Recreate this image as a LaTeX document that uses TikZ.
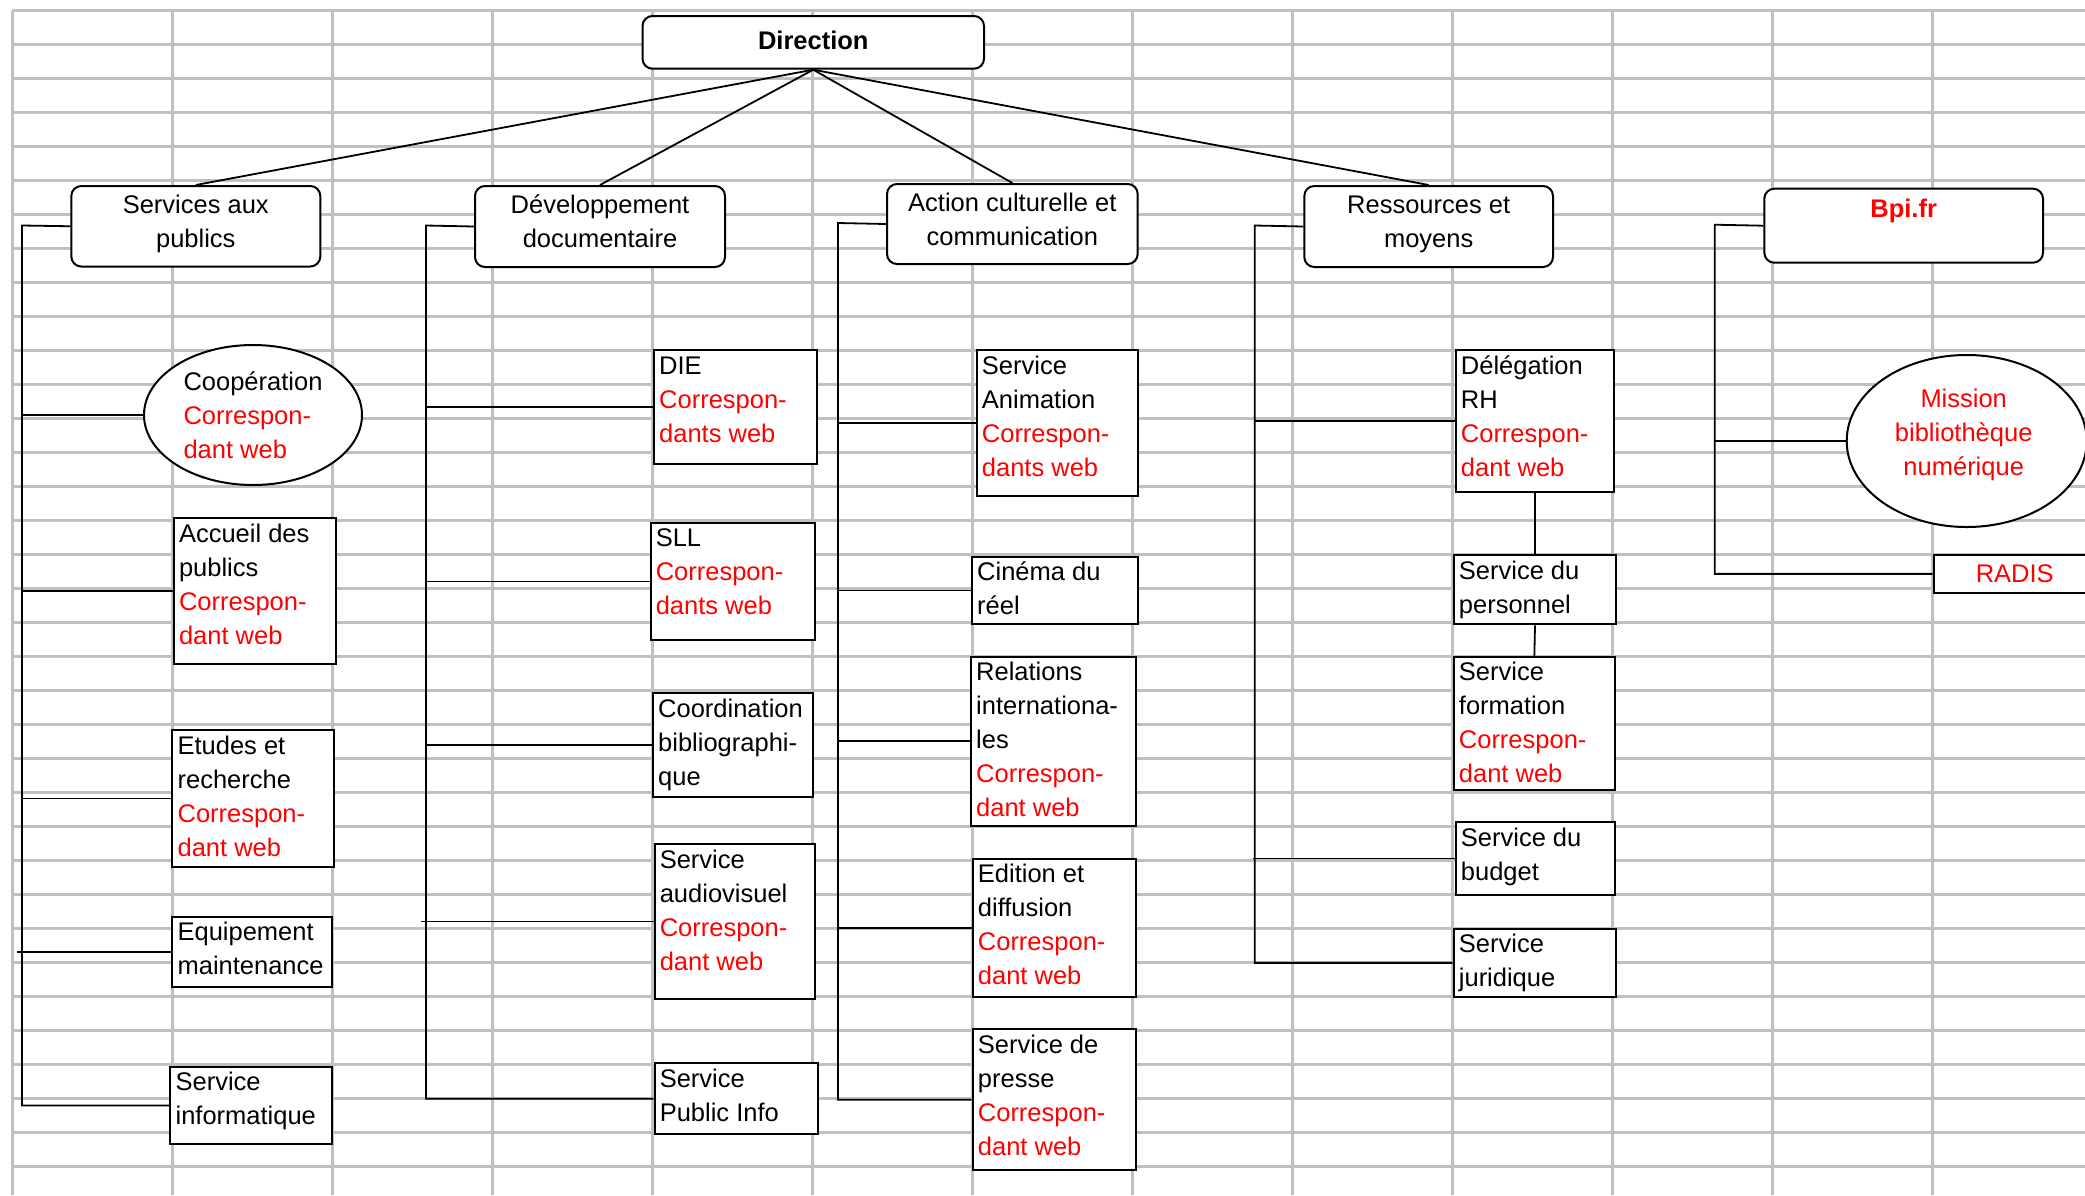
\documentclass[tikz,border=0pt]{standalone}
\usepackage{fontspec}
\setmainfont{Liberation Sans}
\usetikzlibrary{shapes.geometric}
\usetikzlibrary{calc}

\definecolor{gridgray}{RGB}{192,192,192}

% red web correspondent lines
\newcommand{\webc}{\textcolor{red}{Correspon-}\\\textcolor{red}{dant web}}
\newcommand{\webcs}{\textcolor{red}{Correspon-}\\\textcolor{red}{dants web}}

% name, x, y (top left), width, height, text
\newcommand{\unitbox}[6]{%
  \node[unit, minimum width=#4pt, minimum height=#5pt] (#1) at (#2,#3) {};
  \node[unittext] (#1-t) at (#1.north west) {\strut #6};
}

\begin{document}
\begin{tikzpicture}[x=1pt, y=-1pt,
  every node/.style={font=\fontsize{25.5}{34}\selectfont},
  gridline/.style={draw=gridgray, line width=3pt},
  link/.style={line width=1.8pt},
  overshoot/.style={shorten <=-5pt},
  unit/.style={draw, fill=white, line width=2pt, anchor=north west, inner sep=0pt},
  unittext/.style={anchor=north west, align=left, inner xsep=6pt, inner ysep=1pt},
  topbox/.style={draw, fill=white, line width=2pt, rounded corners=10pt, anchor=north west, align=center, inner sep=0pt,
    execute at begin node=\strut, execute at end node=\strut},
  oval/.style={draw, ellipse, fill=white, line width=2pt, inner sep=0pt}]
 \useasboundingbox (0,0) rectangle (2085,1195);
 \clip (0,0) rectangle (2085,1195);

    % Grid
    \foreach \i in {0,...,12}
      \draw[gridline] ({12+160.06*\i},10.7) -- ({12+160.06*\i},1195);
    \foreach \j in {0,...,34}
      \draw[gridline] (12,{10.7+34*\j}) -- (2085,{10.7+34*\j});

    % Direction and departments
    \node[topbox, minimum width=341.5pt, minimum height=52.7pt, font=\fontsize{25.5}{34}\selectfont\bfseries] (dir) at (641.5,15) {Direction};
    \node[topbox, minimum width=249pt, minimum height=80.5pt] (sap) at (70.3,185) {Services aux\\publics};
    \node[topbox, minimum width=250pt, minimum height=81pt] (dev) at (474,185) {Développement\\documentaire};
    \node[topbox, minimum width=250.7pt, minimum height=80pt] (acc) at (886,183) {Action culturelle et\\communication};
    \node[topbox, minimum width=248.7pt, minimum height=81pt] (rm) at (1303.3,185) {Ressources et\\moyens};
    \node[topbox, minimum width=278.7pt, minimum height=74pt] (bpi) at (1763.3,187.7) {};
    \node[font=\fontsize{25.5}{34}\selectfont\bfseries, text=red] (bpi-t) at ($(bpi.north)+(0,23)$) {Bpi.fr};

    % Services aux publics
    \node[oval, minimum width=218pt, minimum height=140pt] (coop) at (253,415) {};
    \node[align=left] (coop-t) at (coop) {Coopération\\\webc};
    \unitbox{accueil}{172.8}{517.3}{162}{146}{Accueil des\\publics\\\webc}
    \unitbox{etudes}{171.4}{729.3}{162}{136.4}{Etudes et\\recherche\\\webc}
    \unitbox{equip}{171.4}{915.7}{159.4}{70}{Equipement\\maintenance}
    \unitbox{info}{169.4}{1065.7}{161.4}{77.6}{Service\\informatique}

    % Developpement documentaire
    \unitbox{die}{653}{349.3}{162.6}{114}{DIE\\\webcs}
    \unitbox{sll}{649.6}{521.7}{164}{117.6}{SLL\\\webcs}
    \unitbox{coord}{652}{692}{159.6}{104}{Coordination\\bibliographi-\\que}
    \unitbox{audio}{653.6}{843.3}{160}{154.4}{Service\\audiovisuel\\\webc}
    \unitbox{spi}{653.6}{1062}{163.4}{71.3}{Service\\Public Info}

    % Action culturelle
    \unitbox{anim}{975.7}{349.3}{161}{145.7}{Service\\Animation\\\webcs}
    \unitbox{cine}{971}{555.7}{165.7}{67.6}{Cinéma du\\réel}
    \unitbox{relint}{970}{655.7}{165}{169.3}{Relations\\internationa-\\les\\\webc}
    \unitbox{edit}{971.7}{857.7}{163.3}{138.3}{Edition et\\diffusion\\\webc}
    \unitbox{presse}{971.7}{1028}{163.3}{141.3}{Service de\\presse\\\webc}

    % Ressources et moyens
    \unitbox{drh}{1454.7}{349.3}{158.6}{141.4}{Délégation\\RH\\\webc}
    \unitbox{pers}{1452.7}{554}{162.6}{69.3}{Service du\\personnel}
    \unitbox{form}{1452.7}{655.7}{161.3}{133.6}{Service\\formation\\\webc}
    \unitbox{budget}{1454.7}{821.3}{159.3}{72.4}{Service du\\budget}
    \unitbox{jur}{1452.7}{927.7}{162.6}{68.3}{Service\\juridique}

    % Bpi.fr
    \node[oval, minimum width=240pt, minimum height=172pt] (mis) at (1966.7,441) {};
    \node[align=center, text=red] (mis-t) at ($(mis)+(-3,-6)$) {Mission\\bibliothèque\\numérique};
    \node[unit, minimum width=162pt, minimum height=37.7pt] (radis) at (1932.7,554) {};
    \node[text=red] (radis-t) at (radis) {RADIS};

    % Links
    \foreach \n in {sap,dev,acc,rm}
      \draw[link] (dir.south) -- (\n.north);

    \coordinate (sapbus) at (22,225.5);
    \coordinate (devbus) at (426,225.5);
    \coordinate (accbus) at (838,223);
    \coordinate (rmbus) at (1254.7,225.5);
    \coordinate (bpibus) at (1714.7,224.7);

    \draw[link] (sap.west) -- (sapbus) |- (info.west);
    \foreach \n in {coop,accueil,etudes}
      \draw[link] (sapbus |- \n.west) -- (\n.west);
    \draw[link, overshoot] (sapbus |- equip.west) -- (equip.west);
    \draw[link] (dev.west) -- (devbus) |- (spi.west);
    \foreach \n in {die,sll,coord}
      \draw[link] (devbus |- \n.west) -- (\n.west);
    \draw[link, overshoot] (devbus |- audio.west) -- (audio.west);
    \draw[link] (acc.west) -- (accbus) |- (presse.west);
    \foreach \n in {anim,cine,relint,edit}
      \draw[link] (accbus |- \n.west) -- (\n.west);
    \draw[link] (rm.west) -- (rmbus) |- (jur.west);
    \draw[link] (rmbus |- drh.west) -- (drh.west);
    \draw[link, shorten <=-2pt] (rmbus |- budget.west) -- (budget.west);
    \draw[link] (drh.south) -- (pers.north);
    \draw[link] (pers.south) -- (form.north);
    \draw[link] (bpi.west) -- (bpibus) |- (radis.west);
    \draw[link] (bpibus |- mis.west) -- (mis.west);
\end{tikzpicture}
\end{document}
